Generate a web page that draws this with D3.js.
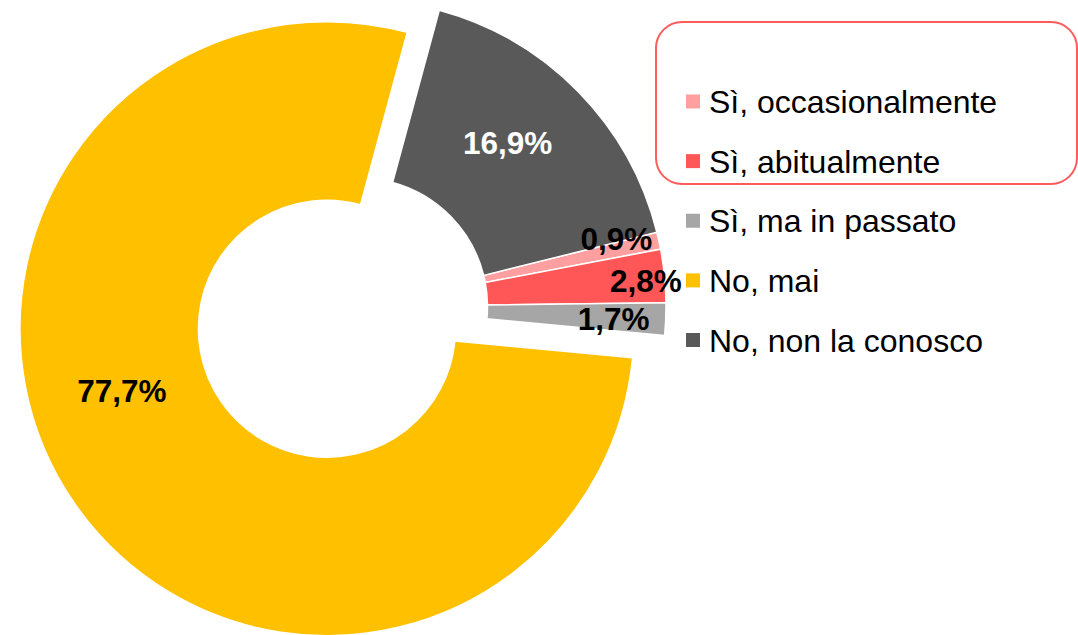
<!DOCTYPE html>
<html>
<head>
<meta charset="utf-8">
<script src="https://cdn.jsdelivr.net/npm/d3@7"></script>
<style>
  body { margin: 0; background: #fff; }
  svg text { font-family: "Liberation Sans", Arial, sans-serif; }
</style>
</head>
<body>
<svg id="chart" width="1078" height="635"></svg>
<script>
const categories = ["Sì, occasionalmente", "Sì, abitualmente", "Sì, ma in passato", "No, mai", "No, non la conosco"];
const values = [0.9, 2.8, 1.7, 77.7, 16.9];
const colors = ["#FF9F9F", "#FF5757", "#A6A6A6", "#FFC000", "#595959"];
const labelColors = ["#000", "#000", "#000", "#000", "#fff"];

// layout
const width = 1078, height = 635;
const cx = 359, cy = 306.5;
const outerR = 307, innerR = 128.5;
const firstSliceAngle = 76;
const explode = [0, 0, 0, 39, 0];
// per label: [angle shift in degrees, radius]
const labelPlace = [[-2.3, 266], [0.6, 288], [0.3, 255], [18, 214], [-3.3, 221]];

const svg = d3.select("#chart");
const rad = d => d * Math.PI / 180;
const fmt = v => d3.format(".1f")(v).replace(".", ",") + "%";

const pie = d3.pie()
    .sort(null)
    .value(d => d)
    .startAngle(rad(firstSliceAngle))
    .endAngle(rad(firstSliceAngle + 360));

const arcs = pie(values);
const arc = d3.arc().innerRadius(innerR).outerRadius(outerR);

const offset = (a, r) => [Math.sin(a) * r, -Math.cos(a) * r];

const g = svg.append("g").attr("transform", `translate(${cx},${cy})`);

g.selectAll("path")
    .data(arcs)
    .enter()
    .append("path")
    .attr("d", arc)
    .attr("transform", (d, i) => {
        const mid = (d.startAngle + d.endAngle) / 2;
        const [dx, dy] = offset(mid, explode[i]);
        return `translate(${dx},${dy})`;
    })
    .attr("fill", (d, i) => colors[i])
    .attr("stroke", "#fff")
    .attr("stroke-width", 1.5);

g.selectAll("text.lbl")
    .data(arcs)
    .enter()
    .append("text")
    .attr("class", "lbl")
    .attr("x", (d, i) => {
        const mid = (d.startAngle + d.endAngle) / 2;
        return offset(mid, explode[i])[0] + offset(mid + rad(labelPlace[i][0]), labelPlace[i][1])[0];
    })
    .attr("y", (d, i) => {
        const mid = (d.startAngle + d.endAngle) / 2;
        return offset(mid, explode[i])[1] + offset(mid + rad(labelPlace[i][0]), labelPlace[i][1])[1];
    })
    .attr("dy", "0.36em")
    .attr("text-anchor", "middle")
    .attr("font-size", 31.5)
    .attr("font-weight", "bold")
    .attr("fill", (d, i) => labelColors[i])
    .text(d => fmt(d.data));

// legend
const ly = d3.scaleLinear().domain([0, categories.length - 1]).range([101.5, 340]);
const legend = svg.append("g");

legend.append("rect")
    .attr("x", 656)
    .attr("y", 22)
    .attr("width", 421)
    .attr("height", 162)
    .attr("rx", 26)
    .attr("fill", "none")
    .attr("stroke", "#FF5B5B")
    .attr("stroke-width", 2);

const items = legend.selectAll("g.item")
    .data(categories)
    .enter()
    .append("g")
    .attr("class", "item")
    .attr("transform", (d, i) => `translate(686,${ly(i)})`);

items.append("rect")
    .attr("x", 0)
    .attr("y", -7)
    .attr("width", 14)
    .attr("height", 14)
    .attr("fill", (d, i) => colors[i]);

items.append("text")
    .attr("x", 23)
    .attr("dy", "0.36em")
    .attr("font-size", 32)
    .attr("fill", "#000")
    .text(d => d);
</script>
</body>
</html>
